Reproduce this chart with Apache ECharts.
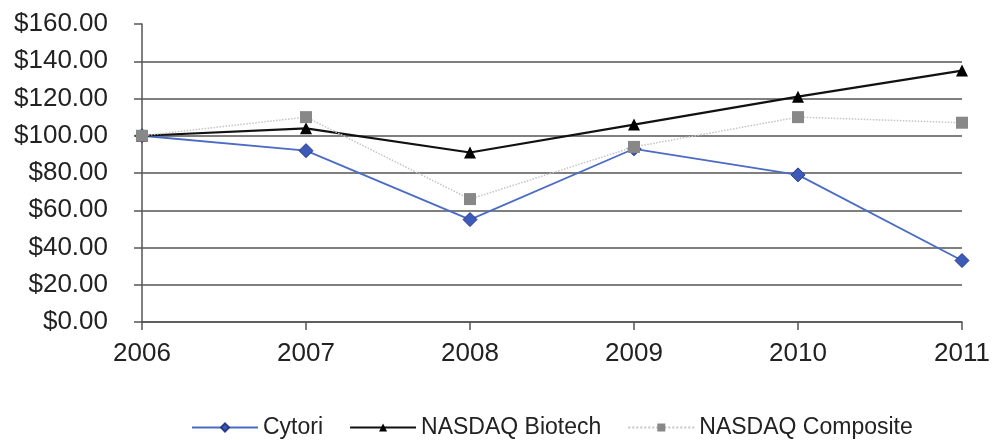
<!DOCTYPE html>
<html><head><meta charset="utf-8">
<script src="https://cdn.jsdelivr.net/npm/echarts@6/dist/echarts.min.js"></script>
<style>html,body{margin:0;padding:0;background:#fff}#c{width:993px;height:440px}</style>
</head><body><div id="c"></div>
<script>
const years = ['2006','2007','2008','2009','2010','2011'];
const cytori = [100, 92, 55, 93, 79, 33];
const biotech = [100, 104, 91, 106, 121, 135];
const composite = [100, 110, 66, 94, 110, 107];
const seriesNames = ['Cytori', 'NASDAQ Biotech', 'NASDAQ Composite'];

const chart = echarts.init(document.getElementById('c'), null, {renderer: 'canvas'});
const font = 'Liberation Sans, Arial, sans-serif';
chart.setOption({
  animation: false,
  backgroundColor: '#fff',
  grid: {left: 142, right: 31, top: 24, bottom: 118},
  legend: {
    top: 411, left: 186,
    itemWidth: 66, itemHeight: 10, itemGap: 26,
    textStyle: {fontFamily: font, fontSize: 23, color: '#222'},
    data: seriesNames
  },
  xAxis: {
    type: 'category', data: years, boundaryGap: false,
    axisLine: {show: true, lineStyle: {color: '#555', width: 1.5}},
    axisTick: {show: true, alignWithLabel: true, length: 8, lineStyle: {color: '#555', width: 1.5}},
    axisLabel: {fontFamily: font, fontSize: 26, color: '#222', margin: 19},
    splitLine: {show: false}
  },
  yAxis: {
    type: 'value', min: 0, max: 160, interval: 20,
    axisLine: {show: true, lineStyle: {color: '#555', width: 1.5}},
    axisTick: {show: true, length: 8, lineStyle: {color: '#555', width: 1.5}},
    axisLabel: {fontFamily: font, fontSize: 26, color: '#222', margin: 34,
      formatter: v => '$' + v.toFixed(2)},
    splitLine: {show: true, showMaxLine: false, lineStyle: {color: '#555', width: 1.5}}
  },
  series: [
    {name: seriesNames[0], type: 'line', data: cytori, symbol: 'diamond', symbolSize: 14,
     lineStyle: {color: '#4a6cc4', width: 1.8},
     itemStyle: {color: '#3d5ab8', borderColor: '#26398a', borderWidth: 1}, z: 2},
    {name: seriesNames[1], type: 'line', data: biotech, symbol: 'triangle', symbolSize: 12,
     lineStyle: {color: '#111', width: 2.2},
     itemStyle: {color: '#000'}, z: 3},
    {name: seriesNames[2], type: 'line', data: composite, symbol: 'rect', symbolSize: 12,
     lineStyle: {color: '#c4c4c4', width: 1.5, type: 'dotted'},
     itemStyle: {color: '#888'}, z: 4}
  ]
});
</script></body></html>
